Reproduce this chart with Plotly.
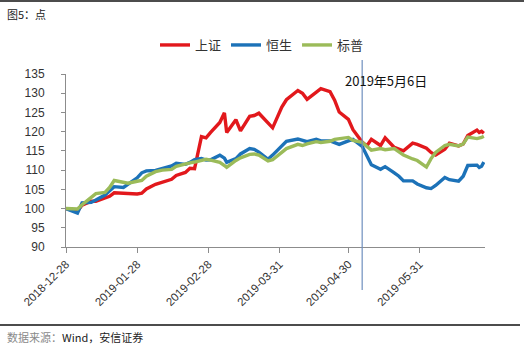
import plotly.graph_objects as go

# Trading dates sampled along the period
dates = [
    "2018-12-28", "2019-01-02", "2019-01-04", "2019-01-08", "2019-01-10", "2019-01-14",
    "2019-01-16", "2019-01-18", "2019-01-22", "2019-01-24", "2019-01-28", "2019-01-30",
    "2019-02-01", "2019-02-05", "2019-02-08", "2019-02-12", "2019-02-14", "2019-02-18",
    "2019-02-20", "2019-02-22", "2019-02-25", "2019-02-27", "2019-03-01", "2019-03-05",
    "2019-03-07", "2019-03-08", "2019-03-12", "2019-03-14", "2019-03-18", "2019-03-20",
    "2019-03-22", "2019-03-26", "2019-03-28", "2019-04-01", "2019-04-03", "2019-04-08",
    "2019-04-10", "2019-04-12", "2019-04-16", "2019-04-18", "2019-04-22", "2019-04-24",
    "2019-04-26", "2019-04-30", "2019-05-02", "2019-05-06", "2019-05-08", "2019-05-10",
    "2019-05-14", "2019-05-16", "2019-05-20", "2019-05-22", "2019-05-24", "2019-05-28",
    "2019-05-30", "2019-06-03", "2019-06-05", "2019-06-07", "2019-06-11", "2019-06-13",
    "2019-06-17", "2019-06-19", "2019-06-21", "2019-06-25", "2019-06-26", "2019-06-27",
    "2019-06-28",
]

# Index levels rebased to 100 on 2018-12-28
shanghai = [
    100.0, 99.4, 100.9, 101.9, 101.9, 102.9, 103.2, 104.1, 103.9, 103.9, 103.8, 104.0,
    105.1, 106.3, 106.9, 107.6, 108.6, 109.4, 110.5, 110.4, 118.7, 118.4, 119.8, 122.4,
    124.9, 119.8, 123.1, 120.2, 124.0, 124.2, 124.8, 122.4, 121.0, 126.4, 128.3, 130.7,
    130.0, 128.4, 130.3, 131.2, 130.4, 128.2, 125.1, 123.2, 120.5, 117.3, 116.3, 118.0,
    116.4, 118.4, 115.9, 115.5, 115.0, 117.0, 116.7, 115.7, 114.6, 113.9, 115.4, 117.0,
    116.3, 116.8, 119.0, 120.4, 119.8, 120.1, 119.6,
]
hang_seng = [
    100.0, 98.8, 101.5, 101.6, 102.2, 103.5, 104.6, 105.7, 105.5, 106.4, 108.0, 109.3,
    109.8, 109.9, 110.5, 111.1, 111.8, 111.5, 112.0, 112.7, 113.0, 112.6, 112.7, 113.9,
    113.1, 112.0, 113.0, 114.2, 115.6, 115.4, 114.7, 112.8, 113.9, 116.3, 117.5, 118.1,
    117.8, 117.4, 118.0, 117.6, 117.6, 117.2, 116.7, 117.6, 118.0, 116.2, 113.8, 111.4,
    110.2, 110.9, 109.3, 108.4, 107.2, 107.2, 106.4, 105.4, 105.2, 106.0, 108.1, 107.5,
    107.1, 108.4, 111.2, 111.3, 110.7, 111.0, 112.1,
]
sp500 = [
    100.0, 99.9, 101.0, 103.0, 103.9, 104.2, 105.5, 107.3, 106.8, 106.6, 107.1, 107.3,
    108.4, 109.6, 110.0, 110.2, 111.0, 111.7, 111.9, 112.1, 112.5, 112.8, 112.6, 112.0,
    111.2, 110.7, 112.5, 113.2, 114.1, 114.2, 113.9, 112.4, 112.7, 114.8, 115.6, 116.7,
    116.4, 116.8, 117.4, 117.2, 117.5, 118.0, 118.2, 118.5, 117.7, 117.2, 116.2, 115.2,
    115.6, 115.3, 115.6, 114.7, 113.9, 112.9, 112.5, 110.8, 113.0, 114.6, 116.4, 116.7,
    116.3, 116.8, 118.6, 118.2, 118.3, 118.5, 118.8,
]

series_names = ["上证", "恒生", "标普"]
series_colors = ["#E2181C", "#1C72B8", "#9BBB59"]

tick_dates = ["2018-12-28", "2019-01-28", "2019-02-28", "2019-03-31", "2019-04-30", "2019-05-31"]
event_date = "2019-05-06"
event_label = "2019年5月6日"
title_text = "图5：点"
source_prefix = "数据来源："
source_text = "Wind，安信证券"

W, H = 524, 349
L, R, T, B = 66, 39, 74, 102
plot_w = W - L - R
plot_h = H - T - B


def px_x(px):
    return (px - L) / plot_w


def px_y(py):
    return (H - B - py) / plot_h


CJK = "Noto Sans CJK SC"
AXIS_COLOR = "#8c8c8c"

fig = go.Figure()
for name, vals, col in zip(series_names, [shanghai, hang_seng, sp500], series_colors):
    fig.add_trace(go.Scatter(
        x=dates, y=vals, name=name, mode="lines",
        line=dict(color=col, width=3.4),
    ))

fig.update_layout(
    width=W, height=H,
    margin=dict(l=L, r=R, t=T, b=B),
    paper_bgcolor="white", plot_bgcolor="white",
    showlegend=True,
    legend=dict(
        orientation="h", x=px_x(262), xanchor="center", y=px_y(45), yanchor="middle",
        font=dict(family=CJK, size=13, color="#333333"),
        itemwidth=30, tracegroupgap=0,
    ),
    xaxis=dict(
        type="date", range=["2018-12-28", "2019-06-28 12:00"],
        tickmode="array", tickvals=tick_dates, ticktext=tick_dates,
        tickangle=-45, ticks="outside", ticklen=5, tickcolor=AXIS_COLOR,
        showline=True, linecolor=AXIS_COLOR, linewidth=1,
        showgrid=False, zeroline=False,
        tickfont=dict(family="Liberation Sans", size=11.5, color="#333333"),
    ),
    yaxis=dict(
        range=[90, 135], dtick=5, tick0=90,
        ticks="outside", ticklen=4, tickcolor=AXIS_COLOR,
        showline=True, linecolor=AXIS_COLOR, linewidth=1,
        showgrid=False, zeroline=False,
        tickfont=dict(family="Liberation Sans", size=12, color="#333333"),
        ticklabelstandoff=14,
    ),
)

# Event marker: vertical line on 2019-05-06
fig.add_shape(
    type="line", xref="x", yref="paper",
    x0=event_date, x1=event_date, y0=px_y(290), y1=px_y(58),
    line=dict(color="#6F8FBF", width=1.2),
)
fig.add_annotation(
    xref="paper", yref="paper", x=px_x(386), y=px_y(80),
    text=event_label, showarrow=False, xanchor="center", yanchor="middle",
    font=dict(family=CJK, size=13, color="#111111"),
)

# Top and bottom rules of the figure frame
fig.add_shape(type="line", xref="paper", yref="paper",
              x0=px_x(0), x1=px_x(W), y0=px_y(1), y1=px_y(1),
              line=dict(color="#111111", width=1.5))
fig.add_shape(type="line", xref="paper", yref="paper",
              x0=px_x(0), x1=px_x(520), y0=px_y(325), y1=px_y(325),
              line=dict(color="#111111", width=1.5))

fig.add_annotation(
    xref="paper", yref="paper", x=px_x(5), y=px_y(14),
    text=title_text, showarrow=False, xanchor="left", yanchor="middle",
    font=dict(family=CJK, size=11, color="#222222"),
)
fig.add_annotation(
    xref="paper", yref="paper", x=px_x(5), y=px_y(337),
    text=f'<span style="color:#8a8a8a">{source_prefix}</span>{source_text}',
    showarrow=False, xanchor="left", yanchor="middle",
    font=dict(family=CJK, size=11, color="#222222"),
)

fig.write_html("out.html")
